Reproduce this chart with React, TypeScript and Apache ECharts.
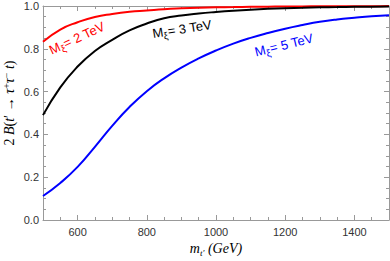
import React, { useEffect, useRef } from "react";
import * as echarts from "echarts";

const mValues = [500, 550, 600, 650, 700, 750, 800, 850, 900, 950, 1000, 1050, 1100, 1150, 1200, 1250, 1300, 1350, 1400, 1450, 1500];
const b2TeV = [0.833, 0.89, 0.924, 0.949, 0.963, 0.973, 0.979, 0.985, 0.989, 0.992, 0.994, 0.995, 0.996, 0.997, 0.998, 0.998, 0.999, 0.999, 0.999, 0.999, 1.0];
const b3TeV = [0.49, 0.62, 0.717, 0.79, 0.842, 0.886, 0.918, 0.943, 0.956, 0.965, 0.972, 0.978, 0.983, 0.987, 0.99, 0.992, 0.994, 0.995, 0.996, 0.997, 0.998];
const b5TeV = [0.112, 0.173, 0.248, 0.342, 0.44, 0.528, 0.602, 0.662, 0.712, 0.755, 0.792, 0.824, 0.851, 0.874, 0.894, 0.911, 0.926, 0.937, 0.945, 0.952, 0.957];
const xTickLabels = [600, 800, 1000, 1200, 1400];
const yTickLabels = [0, 0.2, 0.4, 0.6, 0.8, 1.0];

const FRAME = "#999999";
const SANS = "'Liberation Sans', Arial, sans-serif";
const SERIF = "'Liberation Serif', 'Times New Roman', serif";

function pairs(ys: number[]) {
  return mValues.map((x, i) => [x, ys[i]]);
}

function curveLabel(txt: string, color: string, x: number, y: number, deg: number) {
  return {
    type: "text",
    x,
    y,
    rotation: (deg * Math.PI) / 180,
    style: {
      text: `{m|M}{s|ξ}{m|${txt}}`,
      align: "center",
      verticalAlign: "middle",
      fill: color,
      rich: {
        m: { fontSize: 13, fontFamily: SANS, fill: color, lineHeight: 18, verticalAlign: "middle" },
        s: { fontSize: 10, fontFamily: SANS, fill: color, lineHeight: 18, verticalAlign: "bottom" },
      },
    },
  };
}

export default function App() {
  const ref = useRef<HTMLDivElement>(null);
  useEffect(() => {
    if (!ref.current) return;
    const chart = echarts.init(ref.current, undefined, { renderer: "svg" });
    const minorX = {
      type: "value",
      min: 500,
      max: 1500,
      interval: 50,
      axisLine: { show: true, lineStyle: { color: FRAME, width: 1 } },
      axisTick: { show: true, inside: true, length: 3, lineStyle: { color: FRAME } },
      axisLabel: { show: false },
      splitLine: { show: false },
    };
    const majorX = {
      type: "value",
      min: 500,
      max: 1500,
      axisLine: { show: false },
      axisTick: { show: true, inside: true, length: 5, customValues: xTickLabels, lineStyle: { color: FRAME } },
      splitLine: { show: false },
    };
    const yBase = {
      type: "value",
      min: 0,
      max: 1,
      interval: 0.2,
      axisLine: { show: true, lineStyle: { color: FRAME, width: 1 } },
      axisTick: { show: true, inside: true, length: 5, lineStyle: { color: FRAME } },
      minorTick: { show: true, splitNumber: 4, length: 3, lineStyle: { color: FRAME } },
      splitLine: { show: false },
      minorSplitLine: { show: false },
    };
    const lineSeries = (name: string, ys: number[], color: string) => ({
      name,
      type: "line",
      xAxisIndex: 0,
      yAxisIndex: 0,
      data: pairs(ys),
      smooth: true,
      symbol: "none",
      lineStyle: { color, width: 2 },
      z: 3,
    });
    chart.setOption({
      animation: false,
      grid: { left: 43, right: 1, top: 6, bottom: 41, outerBoundsMode: "none", containLabel: false },
      xAxis: [
        { ...minorX, position: "bottom" },
        {
          ...majorX,
          position: "bottom",
          axisLabel: {
            show: true,
            customValues: xTickLabels,
            margin: 6,
            fontSize: 11,
            fontFamily: SANS,
            color: "#333",
            formatter: (v: number) => String(Math.round(v)),
          },
        },
        { ...minorX, position: "top" },
        { ...majorX, position: "top", axisLabel: { show: false } },
      ],
      yAxis: [
        {
          ...yBase,
          position: "left",
          axisLabel: {
            show: true,
            margin: 4,
            fontSize: 11,
            fontFamily: SANS,
            color: "#333",
            formatter: (v: number) => (yTickLabels.some((t) => Math.abs(t - v) < 1e-9) ? v.toFixed(1) : ""),
          },
        },
        { ...yBase, position: "right", axisLabel: { show: false } },
      ],
      series: [
        lineSeries("2 TeV", b2TeV, "#ff0000"),
        lineSeries("3 TeV", b3TeV, "#000000"),
        lineSeries("5 TeV", b5TeV, "#0000ff"),
      ],
      graphic: [
        curveLabel("= 2 TeV", "#ff0000", 77, 38, 25),
        curveLabel("= 3 TeV", "#000000", 182, 29, 9),
        curveLabel("= 5 TeV", "#0000ff", 284, 45, 14),
        {
          type: "text",
          x: 9,
          y: 103,
          rotation: Math.PI / 2,
          style: {
            text: "{n|2 }{i|B}{n|(}{i|t}{n|′ → }{i|τ}{p|+}{i|τ}{p|−}{i| t}{n|)}",
            align: "center",
            verticalAlign: "middle",
            fill: "#000",
            rich: {
              n: { fontSize: 14, fontFamily: SERIF, lineHeight: 16, verticalAlign: "middle", fill: "#000" },
              i: { fontSize: 14, fontFamily: SERIF, fontStyle: "italic", lineHeight: 16, verticalAlign: "middle", fill: "#000" },
              p: { fontSize: 10, fontFamily: SERIF, lineHeight: 16, verticalAlign: "top", fill: "#000" },
            },
          },
        },
        {
          type: "text",
          x: 216,
          y: 248,
          style: {
            text: "{i|m}{s|t′}{i| (GeV)}",
            align: "center",
            verticalAlign: "middle",
            fill: "#000",
            rich: {
              i: { fontSize: 14, fontFamily: SERIF, fontStyle: "italic", lineHeight: 18, verticalAlign: "middle", fill: "#000" },
              s: { fontSize: 9, fontFamily: SERIF, fontStyle: "italic", lineHeight: 18, verticalAlign: "bottom", fill: "#000" },
            },
          },
        },
      ],
    });
    return () => chart.dispose();
  }, []);
  return (
    <div
      ref={ref}
      style={{ position: "absolute", left: 0, top: 0, width: 390, height: 261, background: "#fff" }}
    />
  );
}
